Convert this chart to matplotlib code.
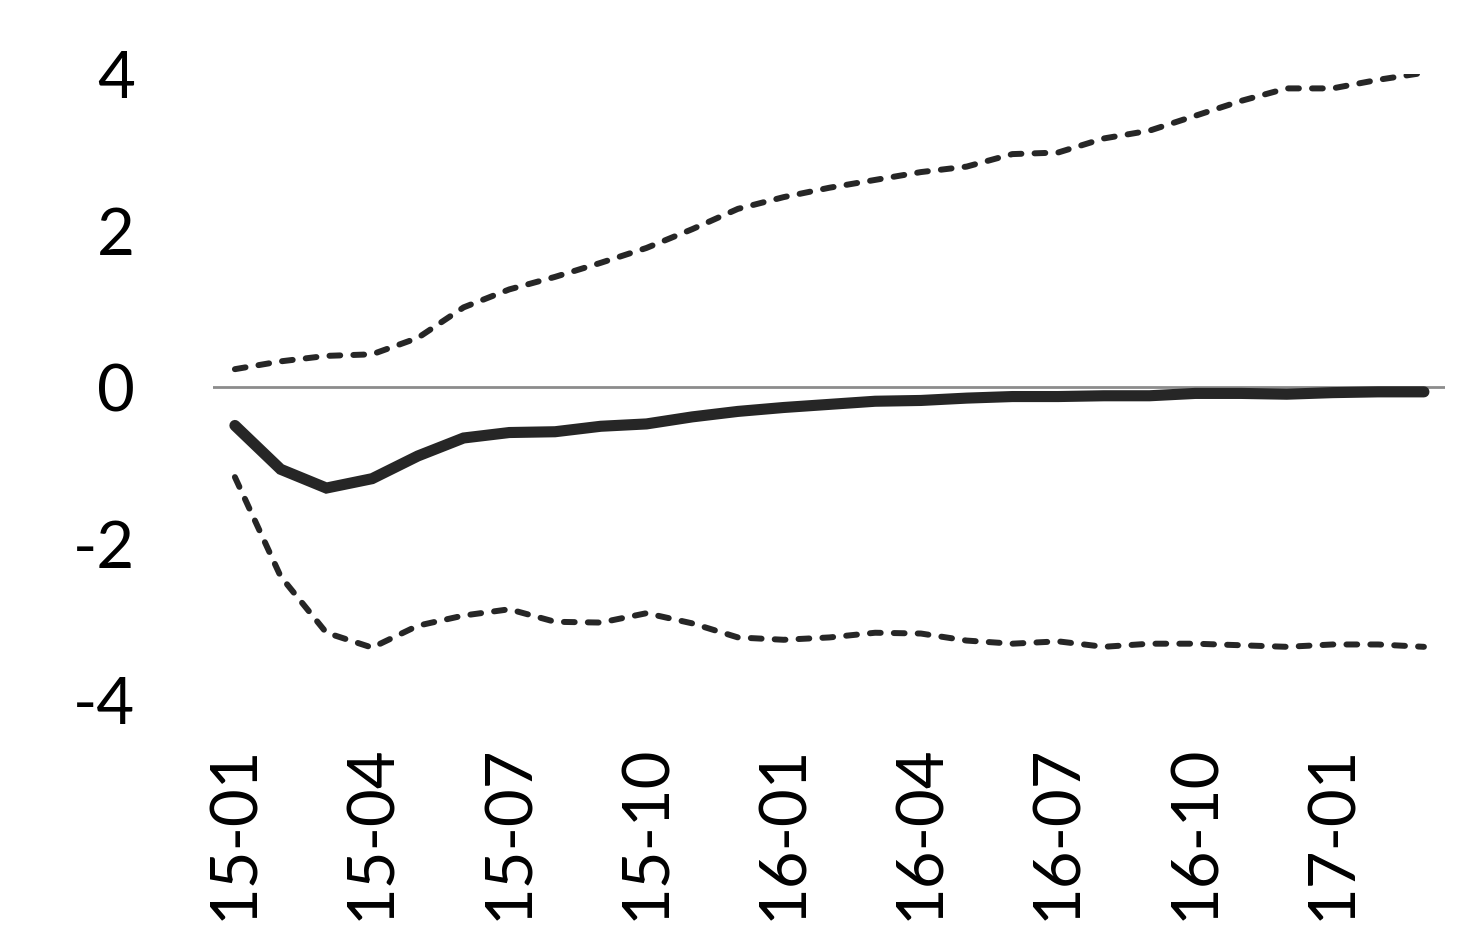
import numpy as np
import matplotlib.pyplot as plt

# monthly labels 15-01 .. 17-03
months = ["15-01", "15-02", "15-03", "15-04", "15-05", "15-06", "15-07", "15-08", "15-09",
          "15-10", "15-11", "15-12", "16-01", "16-02", "16-03", "16-04", "16-05", "16-06",
          "16-07", "16-08", "16-09", "16-10", "16-11", "16-12", "17-01", "17-02", "17-03"]

# point estimate and bands
center = [-0.49, -1.05, -1.29, -1.17, -0.88, -0.65, -0.58, -0.57, -0.50, -0.47, -0.38, -0.31,
          -0.26, -0.22, -0.18, -0.17, -0.14, -0.12, -0.12, -0.11, -0.11, -0.08, -0.08, -0.09,
          -0.07, -0.06, -0.06]
upper = [0.23, 0.33, 0.40, 0.42, 0.63, 1.02, 1.25, 1.41, 1.59, 1.78, 2.02, 2.28, 2.43, 2.55,
         2.65, 2.75, 2.82, 2.98, 3.00, 3.18, 3.28, 3.47, 3.66, 3.82, 3.82, 3.93, 4.02]
lower = [-1.15, -2.42, -3.14, -3.33, -3.05, -2.92, -2.84, -3.00, -3.01, -2.89, -3.02, -3.20,
         -3.23, -3.20, -3.14, -3.15, -3.24, -3.28, -3.25, -3.32, -3.28, -3.28, -3.30, -3.32,
         -3.29, -3.29, -3.32]

yticks = [-4, -2, 0, 2, 4]

x = np.arange(len(months))
ink = "#262626"

plt.rcParams["font.family"] = ["Lato", "DejaVu Sans"]

fig = plt.figure(figsize=(14.82, 9.48), dpi=100)
ax = fig.add_axes([0.1437, 0.2616, 0.831, 0.660])

ax.axhline(0, color="#8c8c8c", lw=2.0, zorder=1)
ax.plot(x, center, color=ink, lw=8, solid_capstyle="round", solid_joinstyle="miter", zorder=3)
for band in (upper, lower):
    ax.plot(x, band, color=ink, lw=4.3, linestyle=(0, (1.8, 2.2)),
            dash_capstyle="round", zorder=2)

ax.set_xlim(-0.48, 26.45)
ax.set_ylim(-4, 4)
ax.set_yticks(yticks)
ax.set_yticklabels([str(v) for v in yticks])
ax.set_xticks(x[::3])
ax.set_xticklabels(months[::3], rotation=90)
ax.tick_params(axis="y", length=0, pad=56, labelsize=47, colors="black")
ax.tick_params(axis="x", length=0, pad=32, labelsize=47, colors="black")
for s in ax.spines.values():
    s.set_visible(False)

fig.savefig("out.png", dpi=100)
